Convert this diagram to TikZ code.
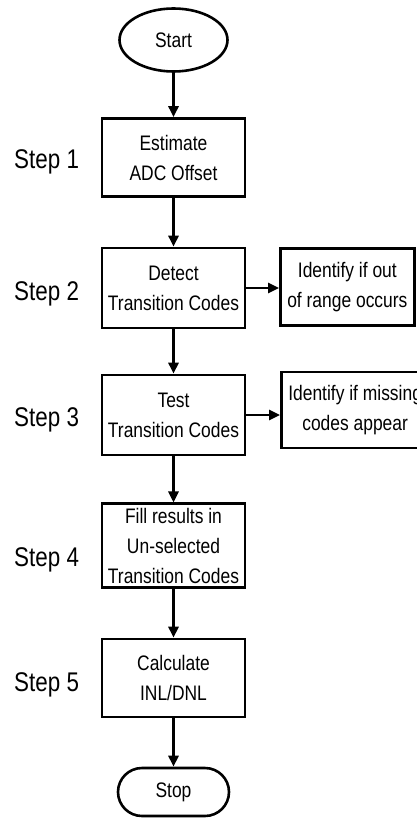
\documentclass[tikz,border=0pt]{standalone}
\usepackage{fontspec}
\setmainfont{Liberation Sans}[FakeStretch=0.83]
\usetikzlibrary{shapes.geometric, arrows.meta}

\begin{document}
\begin{tikzpicture}[x=1pt, y=-1pt,
  every node/.style={font=\fontsize{21}{30}\selectfont, align=center},
  box/.style={draw, line width=2.6pt, minimum width=143pt,
    minimum height=78pt, inner sep=4pt},
  note/.style={draw, line width=2.6pt, minimum height=77pt,
    inner xsep=7pt, anchor=west},
  stepnum/.style={anchor=west, inner sep=0pt,
    font=\fontsize{27}{30}\selectfont},
  flow/.style={line width=2.6pt, -{Triangle[length=11pt,width=10pt]}}]
\def\cx{173.5}

\clip (0,0) rectangle (417,818);

% Start / stop
\node[draw, ellipse, line width=2.6pt, minimum width=108pt,
  minimum height=63pt] (start) at (\cx,40) {Start};
\node[draw, line width=2.6pt, rounded corners=24pt, minimum width=111pt,
  minimum height=48pt] (stop) at (\cx,792) {Stop};

% Main column
\node[box] (offset) at (\cx,157.5) {Estimate\\ADC Offset};
\node[box, minimum height=80pt] (detect) at (\cx,288)
  {Detect\\Transition Codes};
\node[box, minimum height=80pt] (test) at (\cx,415)
  {Test\\Transition Codes};
\node[box] (fill) at (\cx,545.5)
  {Fill results in\\Un-selected\\Transition Codes};
\node[box] (calc) at (\cx,678) {Calculate\\INL/DNL};

% Side checks
\node[note] (range) at (279,287) {Identify if out\\of range occurs};
\node[note, minimum height=76pt] (missing) at (280,410)
  {Identify if missing\\codes appear};

% Step numbers
\foreach \n/\y in {1/162,2/294,3/420,4/560,5/685}{
  \node[stepnum] (step\n) at (14,\y) {Step \n};
}

% Arrows
\draw[flow] (start) -- (offset);
\draw[flow] (offset) -- (detect);
\draw[flow] (detect) -- (test);
\draw[flow] (test) -- (fill);
\draw[flow] (fill) -- (calc);
\draw[flow] (calc) -- (stop);
\draw[flow] (detect.east) -- (detect.east -| range.west);
\draw[flow] (test.east) -- (test.east -| missing.west);
\end{tikzpicture}
\end{document}
